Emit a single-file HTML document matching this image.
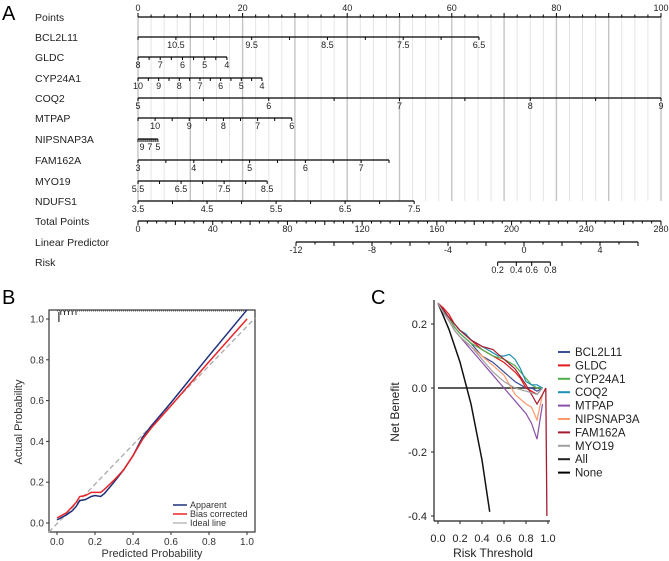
<!DOCTYPE html>
<html><head><meta charset="utf-8"><style>
html,body{margin:0;padding:0;background:#fff}
svg{display:block;font-family:"Liberation Sans",Arial,sans-serif}
</style></head><body>
<svg id="fig" width="669" height="561" viewBox="0 0 669 561" xmlns="http://www.w3.org/2000/svg">
<text x="2" y="20" font-size="20">A</text>
<text x="2" y="304" font-size="20">B</text>
<text x="371" y="304" font-size="20">C</text>
<g id="nomo"></g>
<g id="calib"></g>
<g id="dca"></g>
</svg>
<script>
// ---- Nomogram data ----
const nomoVars = ["BCL2L11","GLDC","CYP24A1","COQ2","MTPAP","NIPSNAP3A","FAM162A","MYO19","NDUFS1"];
const nomoStart = [11,8,10,5,10.5,10,3,5.5,3.5];
const nomoEnd = [6.5,4,4,9,6,5,7.5,8.5,7.5];
const nomoEndPoints = [65.2,17.0,23.7,100,29.4,3.8,48.0,24.7,52.8];
const nomoLabels = [[10.5,9.5,8.5,7.5,6.5],[8,7,6,5,4],[10,9,8,7,6,5,4],[5,6,7,8,9],[10,9,8,7,6],[9,7,5],[3,4,5,6,7],[5.5,6.5,7.5,8.5],[3.5,4.5,5.5,6.5,7.5]];
const pointLabels = [0,20,40,60,80,100];
const totalLabels = [0,40,80,120,160,200,240,280];
const lpLabels = [-12,-8,-4,0,4];
const riskLabels = [0.2,0.4,0.6,0.8];
// ---- Calibration data ----
const calX = [0,0.05,0.08,0.1,0.12,0.15,0.18,0.2,0.23,0.25,0.3,0.35,0.4,0.45,0.5,0.6,0.8,1.0];
const calApparent = [0.015,0.04,0.06,0.08,0.11,0.115,0.13,0.135,0.13,0.145,0.2,0.26,0.33,0.42,0.48,0.59,0.82,1.045];
const calBias = [0.025,0.05,0.08,0.1,0.13,0.135,0.15,0.15,0.15,0.165,0.21,0.26,0.33,0.41,0.47,0.575,0.79,1.0];
const calTicks = [0,0.2,0.4,0.6,0.8,1.0];
// ---- DCA data ----
const dcaT = [0,0.05,0.1,0.15,0.2,0.25,0.3,0.35,0.4,0.45,0.5,0.55,0.6,0.65,0.7,0.75,0.8,0.85,0.9,0.95];
const dcaNames = ["BCL2L11","GLDC","CYP24A1","COQ2","MTPAP","NIPSNAP3A","FAM162A","MYO19"];
const dcaColors = ["#3b4f9a","#e41a1c","#4daf4a","#1f8fb4","#8a4fa8","#fb9a6a","#a51c30","#a0a0a0"];
const dcaBCL = [0.265,0.24,0.22,0.19,0.17,0.155,0.14,0.12,0.10,0.09,0.08,0.065,0.05,0.035,0.02,0.01,0.0,0.0,-0.01,0.0];
const dcaGLDC = [0.265,0.25,0.23,0.2,0.18,0.165,0.15,0.135,0.12,0.11,0.10,0.09,0.08,0.065,0.05,0.03,0.0,-0.01,-0.02,0.0];
const dcaCYP = [0.265,0.24,0.22,0.19,0.17,0.155,0.14,0.13,0.12,0.11,0.10,0.095,0.09,0.08,0.07,0.05,0.03,0.01,0.0,0.0];
const dcaCOQ2 = [0.265,0.24,0.22,0.2,0.18,0.17,0.15,0.14,0.13,0.12,0.11,0.10,0.10,0.105,0.09,0.06,0.02,0.01,0.01,0.0];
const dcaMTPAP = [0.265,0.235,0.21,0.18,0.16,0.14,0.12,0.10,0.08,0.06,0.04,0.02,0.0,-0.02,-0.04,-0.06,-0.08,-0.11,-0.16,-0.05];
const dcaNIP = [0.265,0.235,0.21,0.18,0.16,0.145,0.13,0.115,0.10,0.085,0.07,0.055,0.04,0.01,-0.02,-0.035,-0.05,-0.06,-0.1,-0.02];
const dcaFAM = [0.265,0.245,0.22,0.2,0.18,0.165,0.15,0.14,0.13,0.125,0.12,0.105,0.09,0.075,0.06,0.035,0.01,-0.02,-0.05,-0.02];
const dcaMYO = [0.265,0.235,0.21,0.18,0.16,0.145,0.13,0.11,0.09,0.07,0.05,0.035,0.02,0.01,0.0,-0.005,-0.01,-0.015,-0.02,0.0];
const dcaAllT = [0,0.1,0.2,0.3,0.4,0.47];
const dcaAllV = [0.265,0.183,0.081,-0.05,-0.225,-0.387];
const dcaTicksX = [0,0.2,0.4,0.6,0.8,1.0];
const dcaTicksY = [0.2,0,-0.2,-0.4];

const NS="http://www.w3.org/2000/svg";
function mk(tag,attrs,parent,txt){const e=document.createElementNS(NS,tag);for(const k in attrs)e.setAttribute(k,attrs[k]);if(txt!==undefined)e.textContent=txt;parent.appendChild(e);return e;}
function fmt(v){return (Math.round(v*10)/10).toFixed(1);}

// ===== Nomogram =====
const nomo=document.getElementById('nomo');
const px0=138, pxPer=5.23;
const P=p=>px0+p*pxPer;
const rowY=[17,37,57,78,98,118,139,160,181,201,221,242,262];
for(let p=0;p<=100.01;p+=2.5){
  const major=Math.abs(p/10-Math.round(p/10))<1e-6;
  const g=mk('line',{x1:P(p),x2:P(p),y1:17,y2:201,stroke:major?'#c4c4c4':'#e2e2e2','stroke-width':major?1.4:0.9},nomo);
  
  
}
const rowNames=["Points"].concat(nomoVars).concat(["Total Points","Linear Predictor","Risk"]);
rowNames.forEach((n,i)=>{
  const t=mk('text',{x:35,y:rowY[i]+4,'font-size':10.5,fill:'#222'},nomo,n);
  
  
});
function axisLine(x1,x2,y,name){const l=mk('line',{x1,x2,y1:y,y2:y,stroke:'#000','stroke-width':1.2},nomo);}
function tick(x,y,len){mk('line',{x1:x,x2:x,y1:y,y2:y+len,stroke:'#000','stroke-width':1},nomo);}
function lab(x,y,s,name){const t=mk('text',{x,y,'font-size':9,'text-anchor':'middle',fill:'#222'},nomo,s);}
axisLine(P(0),P(100),17,'points-axis');
for(let p=0;p<=100.01;p+=2.5)tick(P(p),17,(Math.abs(p%10)<1e-6)?-4:-2.5);
pointLabels.forEach(v=>lab(P(v),11,String(v),'points-tick-label'));
nomoVars.forEach((n,i)=>{
  const y=rowY[i+1],s=nomoStart[i],e=nomoEnd[i],ep=nomoEndPoints[i];
  const X=v=>P((v-s)/(e-s)*ep);
  axisLine(X(s),X(e),y,'axis-'+n.toLowerCase());
  const step=0.5*(e>s?1:-1);
  const nT=Math.round(Math.abs(e-s)/0.5);
  for(let k=0;k<=nT;k++)tick(X(s+k*step),y,3);
  nomoLabels[i].forEach(v=>lab(X(v),y+11,String(v),'tick-label-'+n.toLowerCase()));
});
const T=t=>px0+t*(523/280);
axisLine(T(0),T(280),221,'total-points-axis');
for(let t=0;t<=280;t+=5)tick(T(t),221,(t%20===0)?4:2.5);
totalLabels.forEach(v=>lab(T(v),232,String(v),'total-points-tick-label'));
const L=v=>524+v*19;
axisLine(L(-12),L(6),242,'linear-predictor-axis');
for(let v=-12;v<=6;v++)tick(L(v),242,(v%2===0)?4:2.5);
lpLabels.forEach(v=>lab(L(v),253,String(v),'linear-predictor-tick-label'));
const R=r=>L(Math.log(r/(1-r)));
axisLine(R(0.2),R(0.8),262,'risk-axis');
riskLabels.forEach(v=>{tick(R(v),262,4);lab(R(v),273,fmt(v),'risk-tick-label');});

// ===== Calibration =====
const cal=document.getElementById('calib');
const CX=v=>57+v*190, CY=v=>523-v*204;
let fr=mk('rect',{x:49,y:310,width:206,height:222,fill:'none',stroke:'#333','stroke-width':1.2},cal);

calTicks.forEach(v=>{
  mk('line',{x1:CX(v),x2:CX(v),y1:532,y2:535,stroke:'#333'},cal);
  const a=mk('text',{x:CX(v),y:545,'font-size':10,'text-anchor':'middle',fill:'#333'},cal,fmt(v));
  
  mk('line',{x1:46,x2:49,y1:CY(v),y2:CY(v),stroke:'#333'},cal);
  const b=mk('text',{x:44,y:CY(v)+3.5,'font-size':10,'text-anchor':'end',fill:'#333'},cal,fmt(v));
  
});
let xt=mk('text',{x:152,y:557,'font-size':11,'text-anchor':'middle',fill:'#333'},cal,'Predicted Probability');

let yt=mk('text',{x:0,y:0,'font-size':11,'text-anchor':'middle',fill:'#333',transform:'translate(22,422) rotate(-90)'},cal,'Actual Probability');

mk('line',{x1:CX(0.01),x2:CX(0.01),y1:312,y2:322,stroke:'#000','stroke-width':1},cal);
for(let v=0.02;v<=0.1;v+=0.02)mk('line',{x1:CX(v),x2:CX(v),y1:311,y2:315,stroke:'#000','stroke-width':0.8},cal);
let rug=mk('line',{x1:CX(0),x2:CX(1),y1:311,y2:311,stroke:'#666','stroke-width':1,'stroke-dasharray':'1 1'},cal);

let ideal=mk('line',{x1:49,y1:532,x2:255,y2:318,stroke:'#aaa','stroke-width':1.3,'stroke-dasharray':'5 3'},cal);

function pathFrom(xs,ys,fx,fy){return xs.map((x,i)=>(i?'L':'M')+fx(x).toFixed(1)+' '+fy(ys[i]).toFixed(1)).join(' ');}
let ap=mk('path',{d:pathFrom(calX,calApparent,CX,CY),fill:'none',stroke:'#1f2f7a','stroke-width':1.5},cal);

let bc=mk('path',{d:pathFrom(calX,calBias,CX,CY),fill:'none',stroke:'#e8262a','stroke-width':1.5},cal);

[["Apparent","#1f2f7a"],["Bias corrected","#e8262a"],["Ideal line","#bbb"]].forEach((e,i)=>{
  const y=505+i*9;
  mk('line',{x1:173,x2:187,y1:y,y2:y,stroke:e[1],'stroke-width':1.5},cal);
  const t=mk('text',{x:190,y:y+3,'font-size':9,fill:'#333'},cal,e[0]);
  
});

// ===== DCA =====
const dca=document.getElementById('dca');
const DX=v=>438+v*110, DY=v=>388-v*320;
let ya=mk('line',{x1:434,x2:434,y1:300,y2:521,stroke:'#222','stroke-width':1.2},dca);

let xa=mk('line',{x1:434,x2:550,y1:521,y2:521,stroke:'#222','stroke-width':1.2},dca);

dcaTicksX.forEach(v=>{
  mk('line',{x1:DX(v),x2:DX(v),y1:521,y2:524,stroke:'#222'},dca);
  const t=mk('text',{x:DX(v),y:542,'font-size':11,'text-anchor':'middle',fill:'#222'},dca,fmt(v));
  
});
dcaTicksY.forEach(v=>{
  mk('line',{x1:431,x2:434,y1:DY(v),y2:DY(v),stroke:'#222'},dca);
  const t=mk('text',{x:427,y:DY(v)+4,'font-size':11,'text-anchor':'end',fill:'#222'},dca,fmt(v));
  
});
let dx=mk('text',{x:493,y:557,'font-size':12,'text-anchor':'middle',fill:'#222'},dca,'Risk Threshold');

let dy=mk('text',{x:0,y:0,'font-size':12,'text-anchor':'middle',fill:'#222',transform:'translate(399,412) rotate(-90)'},dca,'Net Benefit');

let none=mk('line',{x1:DX(0),x2:DX(0.95),y1:DY(0),y2:DY(0),stroke:'#444','stroke-width':1.8},dca);

let all=mk('path',{d:pathFrom(dcaAllT,dcaAllV,DX,DY),fill:'none',stroke:'#111','stroke-width':1.5},dca);

const dcaSeries=[dcaBCL,dcaGLDC,dcaCYP,dcaCOQ2,dcaMTPAP,dcaNIP,dcaFAM,dcaMYO];
dcaSeries.forEach((s,i)=>{
  const p=mk('path',{d:pathFrom(dcaT,s,DX,DY),fill:'none',stroke:dcaColors[i],'stroke-width':1.2},dca);
  
  
});
let drop=mk('path',{d:'M'+DX(0.95)+' '+DY(-0.02)+' L'+DX(0.98)+' '+DY(0)+' L'+DX(0.99)+' '+DY(-0.4),fill:'none',stroke:dcaColors[6],'stroke-width':1.3},dca);

const legNames=dcaNames.concat(["All","None"]);
const legCols=dcaColors.concat(["#222","#000"]);
legNames.forEach((n,i)=>{
  const y=352+i*13.4;
  mk('line',{x1:558,x2:570,y1:y,y2:y,stroke:legCols[i],'stroke-width':2},dca);
  const t=mk('text',{x:575,y:y+4,'font-size':11.5,fill:'#222'},dca,n);
  
});
</script>
</body></html>
